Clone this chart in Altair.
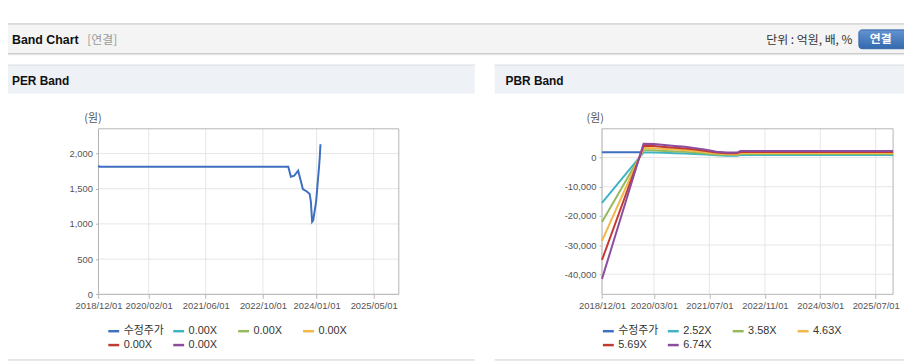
import json
import pandas as pd
import altair as alt

# ---------------- shared ----------------
x_domain = ["2018-12-01", "2025-12-01"]

# ---------------- PER band ----------------
per_series = ["수정주가", "0.00X", "0.00X", "0.00X", "0.00X", "0.00X"]
per_price_dates = ["2018-12-01", "2018-12-08", "2023-05-05", "2023-05-27", "2023-06-25",
                   "2023-07-28", "2023-09-06", "2023-10-10", "2023-11-03", "2023-11-13",
                   "2023-11-24", "2023-12-03", "2023-12-28", "2024-01-10", "2024-01-22",
                   "2024-01-28", "2024-02-03"]
per_price_values = [1830, 1811, 1811, 1670, 1685, 1755, 1495, 1460, 1425, 1320,
                    1030, 1050, 1320, 1580, 1811, 1950, 2130]
per_x_ticks = ["2018-12-01", "2020-02-01", "2021-06-01", "2022-10-01", "2024-01-01", "2025-05-01"]
per_y_ticks = [0, 500, 1000, 1500, 2000]
per_y_domain = [0, 2350]

# ---------------- PBR band ----------------
pbr_series = ["수정주가", "2.52X", "3.58X", "4.63X", "5.69X", "6.74X"]
pbr_price_dates = ["2018-12-01", "2018-12-08", "2019-11-01"]
pbr_price_values = [1830, 1811, 1811]
pbr_band_dates = ["2018-12-01", "2019-12-01", "2020-03-01", "2020-06-01", "2020-09-01",
                  "2020-12-01", "2021-03-01", "2021-06-01", "2021-09-01", "2021-12-01",
                  "2022-03-01", "2022-04-01", "2025-12-01"]
pbr_band_252 = [-15550, 1765, 1750, 1615, 1485, 1375, 1210, 1010, 755, 650, 635, 845, 845]
pbr_band_358 = [-22090, 2505, 2490, 2290, 2110, 1950, 1720, 1430, 1075, 925, 900, 1200, 1200]
pbr_band_463 = [-28570, 3240, 3220, 2965, 2730, 2525, 2220, 1850, 1390, 1195, 1165, 1550, 1550]
pbr_band_569 = [-35110, 3985, 3955, 3640, 3355, 3100, 2730, 2275, 1705, 1470, 1435, 1905, 1905]
pbr_band_674 = [-41590, 4720, 4685, 4315, 3975, 3675, 3235, 2695, 2020, 1740, 1700, 2260, 2260]
pbr_x_ticks = ["2018-12-01", "2020-03-01", "2021-07-01", "2022-11-01", "2024-03-01", "2025-07-01"]
pbr_y_ticks = [-40000, -30000, -20000, -10000, 0]
pbr_y_domain = [-46900, 9860]

series_colors = ["#3e6fc0", "#3db3c4", "#95ba5c", "#f2b649", "#c23b31", "#8e4c9e"]

# ---------------- styles ----------------
FONT = "Liberation Sans, Noto Sans CJK KR"
KFONT = "Noto Sans CJK KR"
GRID = "#e6e6e6"
FRAME = "#b4b4b4"
W, H = 904, 356
TICK_FS = 9.5


def dt(s):
    y, m, d = (int(v) for v in s.split("-"))
    return alt.DateTime(year=y, month=m, date=d)


one = pd.DataFrame({"k": [0]})


def rect(x, x2, y, y2, fill, **kw):
    return alt.Chart(one).mark_rect(**kw).encode(
        x=alt.value(x), x2=alt.value(x2), y=alt.value(y), y2=alt.value(y2), fill=alt.value(fill))


def hline(x, x2, y, color):
    return alt.Chart(one).mark_rule(strokeWidth=1).encode(
        x=alt.value(x), x2=alt.value(x2), y=alt.value(y), color=alt.value(color))


def label(txt, x, y, size, color, weight="normal", align="left", font=FONT):
    return alt.Chart(one).mark_text(
        text=txt, align=align, baseline="middle", font=font, fontSize=size,
        fontWeight=weight, color=color).encode(x=alt.value(x), y=alt.value(y))


def panel(df, keys, label_expr, x_range, x_ticks, y_ticks, y_domain, y_axis_x, legend_x):
    xs = alt.Scale(type="time", domain=[dt(x_domain[0]), dt(x_domain[1])], range=x_range, nice=False)
    ys = alt.Scale(domain=y_domain, range=[287.3, 120.3], nice=False, zero=False)
    xd0 = alt.XDatum(dt(x_domain[0]), type="temporal", scale=xs, axis=None)
    xd1 = alt.X2Datum(dt(x_domain[1]))
    yd0 = alt.YDatum(y_domain[0], type="quantitative", scale=ys, axis=None)
    yd1 = alt.Y2Datum(y_domain[1])

    vgrid = alt.Chart(pd.DataFrame({"d": pd.to_datetime(x_ticks)})).mark_rule(
        color=GRID, strokeWidth=1).encode(
        x=alt.X("d:T", scale=xs, axis=None), y=yd0, y2=yd1)
    hgrid = alt.Chart(pd.DataFrame({"v": y_ticks})).mark_rule(
        color=GRID, strokeWidth=1).encode(
        y=alt.Y("v:Q", scale=ys, axis=None), x=xd0, x2=xd1)
    frame = alt.Chart(one).mark_rect(fill=None, stroke=FRAME, strokeWidth=1).encode(
        x=xd0, x2=xd1, y=yd0, y2=yd1)

    legend_kw = dict(
        orient="none", legendX=legend_x, legendY=317.5, direction="horizontal", columns=4,
        gridAlign="all", symbolType="stroke", symbolStrokeWidth=2.5, symbolSize=121,
        labelFont=FONT, labelFontSize=11, labelColor="#333", labelOffset=3,
        columnPadding=3.5, rowPadding=2, padding=0)
    if label_expr:
        legend_kw["labelExpr"] = label_expr

    line = alt.Chart(df).mark_line(strokeWidth=2).encode(
        x=alt.X("date:T", scale=xs, axis=alt.Axis(
            orient="bottom", offset=287.3 - H, values=[dt(s) for s in x_ticks],
            format="%Y/%m/%d", grid=False, domain=False, tickSize=4, tickColor=FRAME,
            labelFont=FONT, labelFontSize=TICK_FS, labelColor="#555", labelPadding=2,
            labelOverlap=False, labelFlush=False, title=None)),
        y=alt.Y("value:Q", scale=ys, axis=alt.Axis(
            orient="left", offset=-y_axis_x, values=y_ticks, grid=False, domain=False,
            tickSize=3, tickColor=FRAME, labelFont=FONT, labelFontSize=TICK_FS,
            labelColor="#555", labelPadding=3, labelOverlap=False,
            labelExpr="replace(format(datum.value, ','), '\u2212', '-')", title=None)),
        color=alt.Color("series:N", scale=alt.Scale(domain=keys, range=series_colors),
                        legend=alt.Legend(**legend_kw), title=None),
    )
    return [vgrid, hgrid, frame, line]


# PER dataframe
per_keys = [str(i) for i in range(len(per_series))]
per_df = pd.DataFrame({"date": pd.to_datetime(per_price_dates), "value": per_price_values,
                       "series": per_keys[0]})
per_label_expr = json.dumps(per_series, ensure_ascii=False) + "[toNumber(datum.value)]"

# PBR dataframe
frames = [pd.DataFrame({"date": pd.to_datetime(pbr_price_dates), "value": pbr_price_values,
                        "series": pbr_series[0]})]
for name, vals in zip(pbr_series[1:], [pbr_band_252, pbr_band_358, pbr_band_463,
                                       pbr_band_569, pbr_band_674]):
    frames.append(pd.DataFrame({"date": pd.to_datetime(pbr_band_dates), "value": vals,
                                "series": name}))
pbr_df = pd.concat(frames, ignore_index=True)

# ---------------- page chrome ----------------
grad = alt.LinearGradient(gradient="linear", x1=0, x2=0, y1=0, y2=1,
                          stops=[alt.GradientStop(color="#6393d2", offset=0),
                                 alt.GradientStop(color="#336aae", offset=1)])
chrome = [
    rect(-8, W, 15, 44.5, "#f4f4f4"),
    hline(-8, W, 14.5, "#bdbdbd"),
    hline(-8, W, 44.5, "#c2c2c2"),
    hline(-8, W, 45.5, "#e2e2e2"),
    label("Band Chart", 4, 30.5, 12.5, "#111", weight="bold"),
    label("[연결]", 80, 30.5, 12, "#999", font=KFONT),
    label("단위 : 억원, 배, %", 852, 30.5, 12, "#333", align="right", font=KFONT),
    alt.Chart(one).mark_rect(fill=grad, stroke="#3566a6", strokeWidth=1, cornerRadius=3).encode(
        x=alt.value(858.5), x2=alt.value(910), y=alt.value(20.5), y2=alt.value(39.5)),
    label("연결", 880.5, 30, 12, "#ffffff", weight="bold", align="center", font=KFONT),
    rect(-8, 471, 56.5, 85, "#eef2f7"),
    rect(491, W, 56.5, 85, "#eef2f7"),
    hline(-8, 471, 56, "#d5d9df"),
    hline(491, W, 56, "#d5d9df"),
    label("PER Band", 4, 72.5, 12, "#111", weight="bold"),
    label("PBR Band", 502, 72.5, 12, "#111", weight="bold"),
    label("(원)", 77, 110, 11, "#555", font=KFONT),
    label("(원)", 583.7, 110, 11, "#555", font=KFONT),
    hline(-8, 471, 353.5, "#d0d0d0"),
    hline(491, W, 353.5, "#d0d0d0"),
]

per_layers = panel(per_df, per_keys, per_label_expr, [91.3, 394.3], per_x_ticks,
                   per_y_ticks, per_y_domain, 91.3, 99.7)
pbr_layers = panel(pbr_df, pbr_series, None, [599.3, 893.0], pbr_x_ticks,
                   pbr_y_ticks, pbr_y_domain, 599.3, 598.7)

chart = alt.layer(*chrome, *per_layers, *pbr_layers).resolve_scale(
    x="independent", y="independent", color="independent"
).properties(
    width=W, height=H, autosize=alt.AutoSizeParams(type="none"), padding=0,
    background="white"
).configure_view(stroke=None)

chart.save("out.html", embed_options={"renderer": "svg", "actions": False})
